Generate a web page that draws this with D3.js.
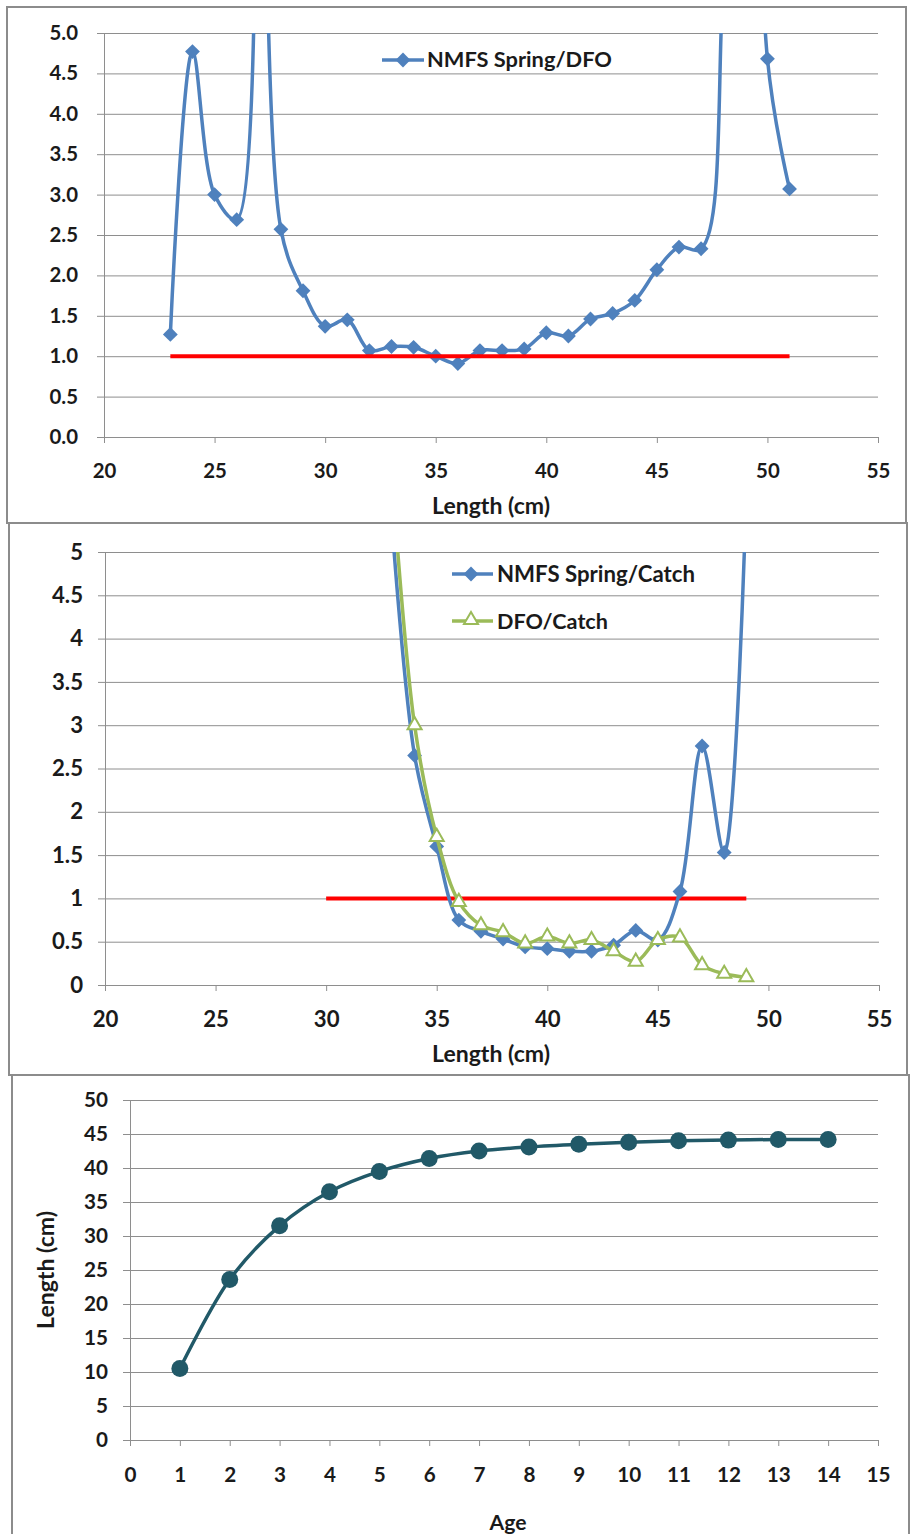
<!DOCTYPE html>
<html><head><meta charset="utf-8">
<script src="https://cdn.jsdelivr.net/npm/d3@7"></script>
<style>
body{margin:0;background:#fff}
text{font-family:Lato,"Open Sans",sans-serif;font-weight:700;fill:#1a1a1a}
</style>
</head><body>
<script>
// ---------- data ----------
const lengths1 = d3.range(23, 52);
const nmfsDfo = [1.27, 4.77, 3.00, 2.69, 11, 2.57, 1.81, 1.37, 1.45, 1.07, 1.12, 1.11, 1.00, 0.91, 1.07, 1.07, 1.09, 1.29, 1.25, 1.46, 1.53, 1.69, 2.07, 2.35, 2.33, 5.7, 16, 4.68, 3.07];
const ref1 = [23, 51];

const lengths2 = d3.range(33, 50);
const nmfsCatch = [5.25, 2.65, 1.60, 0.75, 0.62, 0.53, 0.44, 0.42, 0.39, 0.39, 0.46, 0.63, 0.52, 1.08, 2.76, 1.53, 5.7];
const dfoCatch  = [5.8, 3.00, 1.71, 0.96, 0.69, 0.61, 0.48, 0.56, 0.48, 0.52, 0.39, 0.27, 0.52, 0.55, 0.23, 0.13, 0.09];
const ref2 = [30, 49];

const ages = d3.range(1, 15);
const lenAtAge = [10.5, 23.6, 31.5, 36.5, 39.5, 41.4, 42.5, 43.1, 43.5, 43.8, 44.0, 44.1, 44.2, 44.2];

const xTicksLen = [20, 25, 30, 35, 40, 45, 50, 55];
const yTicksRatio = [0, 0.5, 1, 1.5, 2, 2.5, 3, 3.5, 4, 4.5, 5];
const xTicksAge = d3.range(0, 16);
const yTicksLen = d3.range(0, 51, 5);

const legend1 = ["NMFS Spring/DFO"];
const legend2 = ["NMFS Spring/Catch", "DFO/Catch"];
const xTitleLen = "Length (cm)";
const xTitleAge = "Age";
const yTitleAge = "Length (cm)";

// ---------- styles ----------
const BLUE = "#4F81BD", GREEN = "#9BBB59", RED = "#FF0000", TEAL = "#215968";
const GRID = "#8e8e8e", BORDER = "#8c8c8c";
const curve = d3.curveCatmullRom.alpha(0.5);

const svg = d3.select("body").append("svg").attr("width", 911).attr("height", 1534);
svg.append("rect").attr("width", 911).attr("height", 1534).attr("fill", "#fff");

function fitSize(str, target) {
  const t = svg.append("text").attr("font-size", 100).text(str);
  const w = t.node().getComputedTextLength();
  t.remove();
  return 100 * target / w;
}

// panels
[[7, 7, 906, 523], [9, 523, 907, 1075], [12, 1075, 909, 1545]].forEach(p => {
  svg.append("rect").attr("x", p[0]).attr("y", p[1]).attr("width", p[2] - p[0]).attr("height", p[3] - p[1])
    .attr("fill", "none").attr("stroke", BORDER).attr("stroke-width", 2);
});

function frame(x, y, xt, yt, yfmt, yPad, xPad, fs) {
  const g = svg.append("g");
  const w = x.range()[1] - x.range()[0];
  g.append("g").attr("transform", `translate(${x.range()[0]},0)`)
    .call(d3.axisLeft(y).tickValues(yt).tickSize(-w).tickFormat(""))
    .call(s => { s.select(".domain").remove(); s.selectAll("line").attr("stroke", GRID).attr("stroke-width", 1); });
  g.append("g").attr("transform", `translate(${x.range()[0]},0)`)
    .call(d3.axisLeft(y).tickValues(yt).tickFormat(yfmt).tickSize(7).tickSizeOuter(0).tickPadding(yPad))
    .call(s => {
      s.select(".domain").attr("stroke", GRID);
      s.selectAll("line").attr("stroke", GRID);
      s.selectAll("text").attr("font-size", fs).attr("font-family", null).style("fill", "#1a1a1a");
    });
  g.append("g").attr("transform", `translate(0,${y(0)})`)
    .call(d3.axisBottom(x).tickValues(xt).tickSize(6).tickSizeOuter(0).tickPadding(xPad))
    .call(s => {
      s.select(".domain").attr("stroke", GRID);
      s.selectAll("line").attr("stroke", GRID);
      s.selectAll("text").attr("font-size", fs).attr("font-family", null).style("fill", "#1a1a1a");
    });
  svg.selectAll("g text").attr("font-weight", null);
  return g;
}

function clip(id, x, y) {
  svg.append("clipPath").attr("id", id).append("rect")
    .attr("x", x.range()[0]).attr("y", y.range()[1])
    .attr("width", x.range()[1] - x.range()[0]).attr("height", y.range()[0] - y.range()[1]);
}

const diamond = d3.symbol().type(d3.symbolSquare).size(110);
const tri = d3.symbol().type(d3.symbolTriangle).size(85);

function title(str, cx, cy, target, rotate) {
  const fs = fitSize(str, target);
  const t = svg.append("text").attr("font-size", fs).attr("text-anchor", "middle").attr("dominant-baseline", "central").text(str);
  if (rotate) t.attr("transform", `translate(${cx},${cy}) rotate(-90)`);
  else t.attr("x", cx).attr("y", cy);
}

// ---------- chart 1 ----------
{
  const x = d3.scaleLinear().domain([20, 55]).range([104, 878]);
  const y = d3.scaleLinear().domain([0, 5]).range([437, 33]);
  const fs = fitSize("4.5", 28.5);
  frame(x, y, xTicksLen, yTicksRatio, d3.format(".1f"), 19, 21, fs);
  clip("c1", x, y);
  const g = svg.append("g").attr("clip-path", "url(#c1)");
  const data = lengths1.map((l, i) => [l, nmfsDfo[i]]);
  const line = d3.line().x(d => x(d[0])).y(d => y(d[1])).curve(curve);
  g.append("path").attr("d", line(data)).attr("fill", "none").attr("stroke", BLUE).attr("stroke-width", 3.5);
  g.selectAll(".m").data(data).join("path")
    .attr("d", diamond).attr("fill", BLUE)
    .attr("transform", d => `translate(${x(d[0])},${y(d[1])}) rotate(45)`);
  g.append("line").attr("x1", x(ref1[0])).attr("x2", x(ref1[1])).attr("y1", y(1)).attr("y2", y(1))
    .attr("stroke", RED).attr("stroke-width", 4);
  const lg = svg.append("g");
  lg.append("line").attr("x1", 382).attr("x2", 424).attr("y1", 60).attr("y2", 60).attr("stroke", BLUE).attr("stroke-width", 3.5);
  lg.append("path").attr("d", diamond).attr("fill", BLUE).attr("transform", "translate(403,60) rotate(45)");
  lg.append("text").attr("x", 427).attr("y", 67).attr("font-size", fitSize(legend1[0], 185)).text(legend1[0]);
  title(xTitleLen, 491, 505, 118);
}

// ---------- chart 2 ----------
{
  const x = d3.scaleLinear().domain([20, 55]).range([105, 879]);
  const y = d3.scaleLinear().domain([0, 5]).range([985, 552]);
  const fs = fitSize("4.5", 31);
  frame(x, y, xTicksLen, yTicksRatio, d3.format(""), 15, 20, fs);
  clip("c2", x, y);
  const g = svg.append("g").attr("clip-path", "url(#c2)");
  const line = d3.line().x(d => x(d[0])).y(d => y(d[1])).curve(curve);
  g.append("line").attr("x1", x(ref2[0])).attr("x2", x(ref2[1])).attr("y1", y(1)).attr("y2", y(1))
    .attr("stroke", RED).attr("stroke-width", 4);
  const b = lengths2.map((l, i) => [l, nmfsCatch[i]]);
  const gr = lengths2.map((l, i) => [l, dfoCatch[i]]);
  g.append("path").attr("d", line(b)).attr("fill", "none").attr("stroke", BLUE).attr("stroke-width", 3.5);
  g.selectAll(".mb").data(b).join("path")
    .attr("d", diamond).attr("fill", BLUE)
    .attr("transform", d => `translate(${x(d[0])},${y(d[1])}) rotate(45)`);
  g.append("path").attr("d", line(gr)).attr("fill", "none").attr("stroke", GREEN).attr("stroke-width", 3.5);
  g.selectAll(".mg").data(gr).join("path")
    .attr("d", tri).attr("fill", "#fff").attr("stroke", GREEN).attr("stroke-width", 2)
    .attr("transform", d => `translate(${x(d[0])},${y(d[1])})`);
  const lg = svg.append("g");
  lg.append("line").attr("x1", 452).attr("x2", 493).attr("y1", 574).attr("y2", 574).attr("stroke", BLUE).attr("stroke-width", 3.5);
  lg.append("path").attr("d", diamond).attr("fill", BLUE).attr("transform", "translate(471,574) rotate(45)");
  lg.append("text").attr("x", 497).attr("y", 582).attr("font-size", fitSize(legend2[0], 198)).text(legend2[0]);
  lg.append("line").attr("x1", 452).attr("x2", 493).attr("y1", 621).attr("y2", 621).attr("stroke", GREEN).attr("stroke-width", 3.5);
  lg.append("path").attr("d", tri).attr("fill", "#fff").attr("stroke", GREEN).attr("stroke-width", 2).attr("transform", "translate(471,620)");
  lg.append("text").attr("x", 497).attr("y", 629).attr("font-size", fitSize(legend2[1], 111)).text(legend2[1]);
  title(xTitleLen, 491, 1053, 118);
}

// ---------- chart 3 ----------
{
  const x = d3.scaleLinear().domain([0, 15]).range([130, 878]);
  const y = d3.scaleLinear().domain([0, 50]).range([1440, 1100]);
  const fs = fitSize("50", 24);
  frame(x, y, xTicksAge, yTicksLen, d3.format(""), 15, 21, fs);
  const data = ages.map((a, i) => [a, lenAtAge[i]]);
  const line = d3.line().x(d => x(d[0])).y(d => y(d[1])).curve(curve);
  svg.append("path").attr("d", line(data)).attr("fill", "none").attr("stroke", TEAL).attr("stroke-width", 3.5);
  svg.selectAll(".mc").data(data).join("circle")
    .attr("cx", d => x(d[0])).attr("cy", d => y(d[1])).attr("r", 8.5).attr("fill", TEAL);
  title(xTitleAge, 508, 1522, 37);
  title(yTitleAge, 45, 1270, 118, true);
}
</script>
</body></html>
